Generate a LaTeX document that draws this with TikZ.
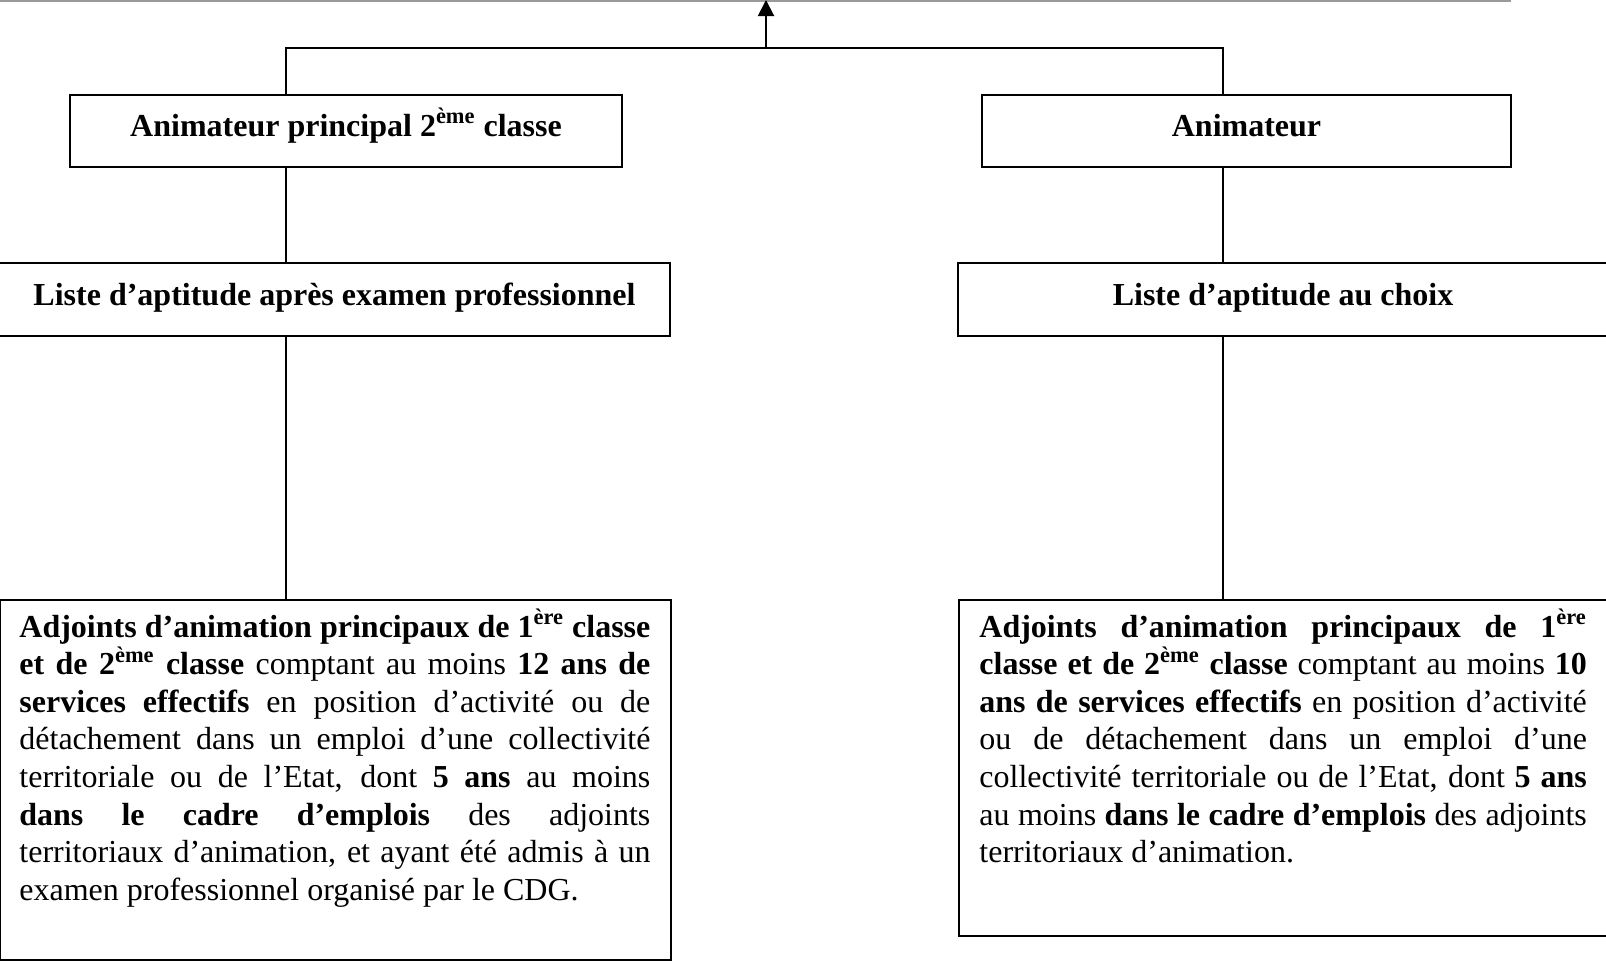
\documentclass[tikz,border=0pt]{standalone}
\usepackage{fontspec}
\setmainfont{Liberation Serif}
\usetikzlibrary{arrows.meta}
\begin{document}
\begin{tikzpicture}[x=0.5pt,y=-0.5pt,
  box/.style={draw=black, line width=1pt, rectangle, inner sep=0pt},
  hd/.style={font=\fontsize{16}{18.8}\selectfont\bfseries, text height=9.5pt, text depth=4pt},
  para/.style={font=\fontsize{16}{18.8}\selectfont, align=justify, inner sep=0pt, anchor=base west},
  conn/.style={draw=black, line width=1pt}]
\clip (0,0) rectangle (1606,964);
% top rule
\coordinate (r0) at (0,1);
\coordinate (r1) at (1511,1);
\draw[draw=gray!80, line width=1pt] (r0) -- (r1);
% heading boxes
\node[box, hd, minimum width=276pt, minimum height=36pt] (a1) at (346,131) {Animateur principal 2\textsuperscript{ème} classe};
\node[box, hd, minimum width=264.5pt, minimum height=36pt] (a2) at (1246.5,131) {Animateur};
\node[box, hd, minimum width=335.5pt, minimum height=36.5pt] (l1) at (334.5,299.5) {Liste d’aptitude après examen professionnel};
\node[box, hd, minimum width=325pt, minimum height=36.5pt] (l2) at (1283,299.5) {Liste d’aptitude au choix};
% big boxes
\node[box, minimum width=335.5pt, minimum height=180pt, anchor=north west] (c1) at (-1,599) {};
\node[box, minimum width=325pt, minimum height=168pt, anchor=north west] (c2) at (958,599) {};
\node[para, text width=315.5pt] (t1) at (19,637) {\textbf{Adjoints d’animation principaux de 1\textsuperscript{ère} classe}\linebreak
\textbf{et de 2\textsuperscript{ème} classe} comptant au moins \textbf{12 ans de}\linebreak
\textbf{services effectifs} en position d’activité ou de\linebreak
détachement dans un emploi d’une collectivité\linebreak
territoriale ou de l’Etat, dont \textbf{5 ans} au moins\linebreak
\textbf{dans le cadre d’emplois} des adjoints\linebreak
territoriaux d’animation, et ayant été admis à un\linebreak
examen professionnel organisé par le CDG.};
\node[para, text width=303.75pt] (t2) at (979,637) {\textbf{Adjoints d’animation principaux de 1\textsuperscript{ère}}\linebreak
\textbf{classe et de 2\textsuperscript{ème} classe} comptant au moins \textbf{10}\linebreak
\textbf{ans de services effectifs} en position d’activité\linebreak
ou de détachement dans un emploi d’une\linebreak
collectivité territoriale ou de l’Etat, dont \textbf{5 ans}\linebreak
au moins \textbf{dans le cadre d’emplois} des adjoints\linebreak
territoriaux d’animation.};
% connectors
\coordinate (jl) at (286,47.5);
\coordinate (jr) at (1222.5,47.5);
\coordinate (up) at (766,0);
\draw[conn] (a1.north -| jl) -- (jl) -- (jr) -- (a2.north -| jr);
\draw[conn, -{Triangle[length=8pt,width=8pt]}] (jl -| up) -- (up);
\draw[conn] (a1.south -| jl) -- (l1.north -| jl);
\draw[conn] (l1.south -| jl) -- (c1.north -| jl);
\draw[conn] (a2.south -| jr) -- (l2.north -| jr);
\draw[conn] (l2.south -| jr) -- (c2.north -| jr);
\end{tikzpicture}
\end{document}
